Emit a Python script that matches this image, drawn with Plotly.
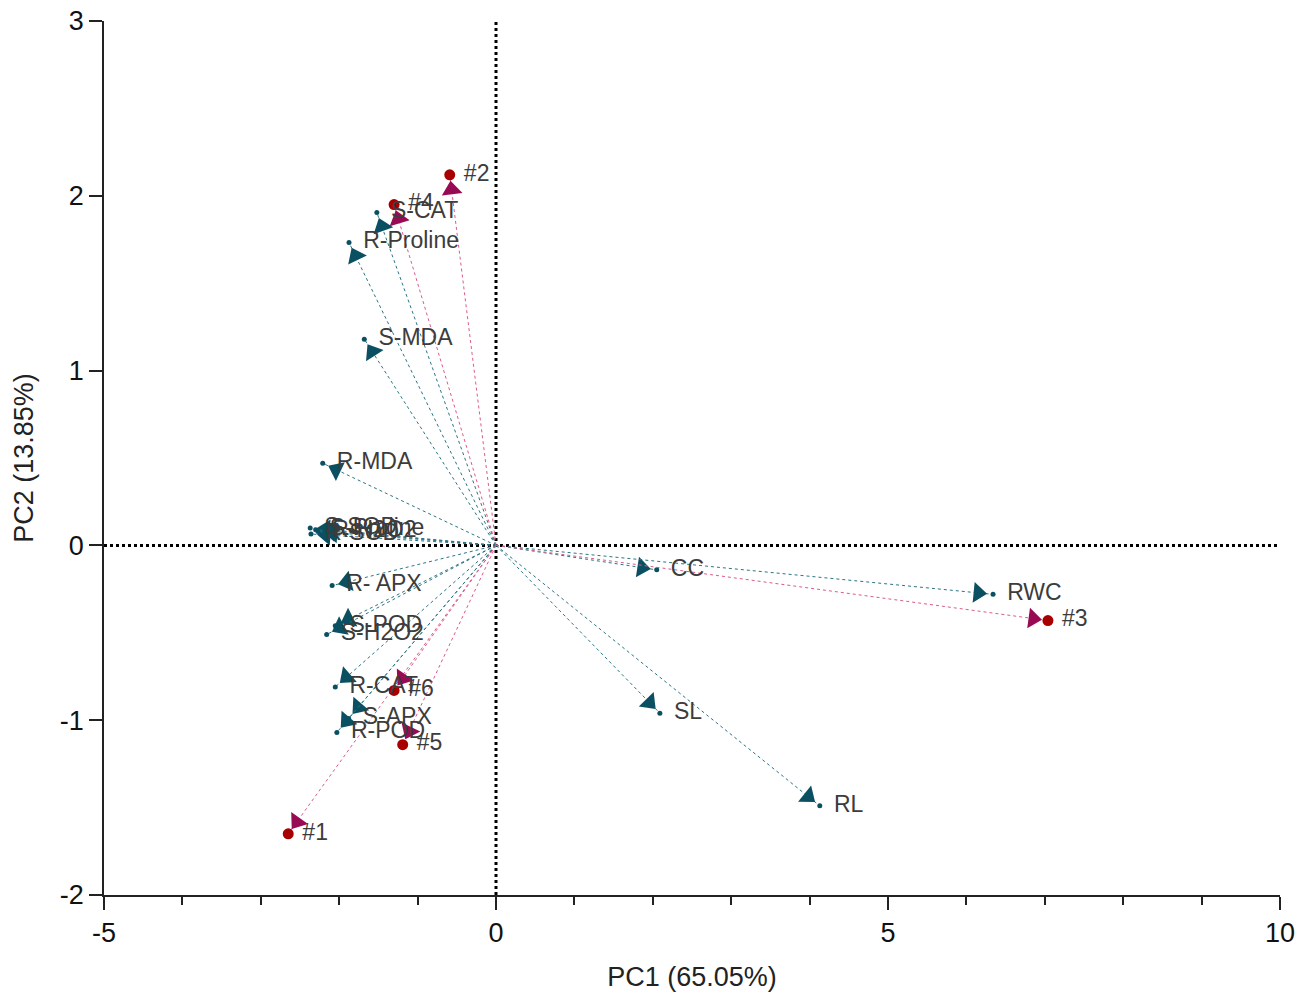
import math
import plotly.graph_objects as go

# Variable loadings (scaled)
var_names = ["S-CAT", "R-Proline", "S-MDA", "R-MDA", "S-SOD", "S-Proline", "R-SOD", "R-H2O2",
             "R- APX", "S-POD", "S-H2O2", "R-CAT", "S-APX", "R-POD", "CC", "RWC", "SL", "RL"]
var_pc1 = [-1.52, -1.875, -1.68, -2.21, -2.37, -2.30, -2.36, -2.27,
           -2.09, -2.05, -2.16, -2.05, -1.88, -2.03, 2.05, 6.34, 2.09, 4.13]
var_pc2 = [1.905, 1.733, 1.18, 0.47, 0.10, 0.09, 0.065, 0.08,
           -0.23, -0.46, -0.51, -0.81, -0.99, -1.07, -0.14, -0.28, -0.96, -1.49]

# Observation scores
obs_names = ["#1", "#2", "#3", "#4", "#5", "#6"]
obs_pc1 = [-2.65, -0.59, 7.04, -1.30, -1.19, -1.30]
obs_pc2 = [-1.65, 2.12, -0.43, 1.95, -1.14, -0.83]

# axis ticks
x_ticks = [-5, 0, 5, 10]
x_ticktext = ["-5", "0", "5", "10"]
y_ticks = [-2, -1, 0, 1, 2, 3]
y_ticktext = ["-2", "-1", "0", "1", "2", "3"]

# layout constants
PX_X = 1176 / 15.0
PX_Y = 874 / 5.0
HEAD_BACK = 15  # px from tip to arrow head centre

TEAL = "#0b5062"
TEAL_LINE = "#2a7585"
HEAD_OBS = "#990a55"
DOT_OBS = "#a80000"
LINE_OBS = "#dc5a88"
FONT = "Liberation Sans, Arial, sans-serif"

fig = go.Figure()


def add_vector(x, y, line_color, head_color, dot_color, dot_size):
    L = math.hypot(x * PX_X, y * PX_Y)
    f = max(0.0, (L - HEAD_BACK) / L)
    fig.add_trace(go.Scatter(
        x=[0, x * f, x], y=[0, y * f, y],
        mode="lines+markers",
        line=dict(color=line_color, width=1, dash="dot"),
        marker=dict(symbol=["circle", "triangle-up", "circle"],
                    size=[0, 18, dot_size], opacity=1,
                    color=[head_color, head_color, dot_color],
                    angleref="previous", line=dict(width=0)),
        opacity=1, cliponaxis=False, showlegend=False, hoverinfo="skip",
    ))


for x, y in zip(var_pc1, var_pc2):
    add_vector(x, y, TEAL_LINE, TEAL, TEAL, 5)
for x, y in zip(obs_pc1, obs_pc2):
    add_vector(x, y, LINE_OBS, HEAD_OBS, DOT_OBS, 11)

# labels (invisible markers only to set the text offset from the tip)
fig.add_trace(go.Scatter(
    x=var_pc1 + obs_pc1, y=var_pc2 + obs_pc2,
    mode="markers+text", text=var_names + obs_names,
    textposition="middle right",
    marker=dict(size=21, opacity=0),
    textfont=dict(family=FONT, size=23, color="#3c3c3c"),
    cliponaxis=False, showlegend=False, hoverinfo="skip",
))

fig.add_shape(type="line", x0=-5, x1=10, y0=0, y1=0, xref="x", yref="y",
              line=dict(color="black", width=3, dash="dot"), layer="below")
fig.add_shape(type="line", x0=0, x1=0, y0=-2, y1=3, xref="x", yref="y",
              line=dict(color="black", width=3, dash="dot"), layer="below")

axis_common = dict(showgrid=False, zeroline=False, showline=True, linecolor="#222",
                   linewidth=1.5, ticks="outside", tickcolor="#222", tickwidth=1.5,
                   ticklen=13, tickfont=dict(family=FONT, size=27, color="#111"),
                   title_font=dict(family=FONT, size=27, color="#222"),
                   automargin=False)

fig.update_layout(
    width=1311, height=996,
    paper_bgcolor="white", plot_bgcolor="white",
    margin=dict(l=104, r=31, t=21, b=101),
    xaxis=dict(range=[-5, 10], tickvals=x_ticks, ticktext=x_ticktext,
               minor=dict(dtick=1, tick0=0, ticks="outside", ticklen=8,
                          tickcolor="#222", tickwidth=1.5),
               title=dict(text="PC1 (65.05%)", standoff=20), **axis_common),
    yaxis=dict(range=[-2, 3], tickvals=y_ticks, ticktext=y_ticktext,
               title=dict(text="PC2 (13.85%)", standoff=18), **axis_common),
)

fig.write_html("out.html")
